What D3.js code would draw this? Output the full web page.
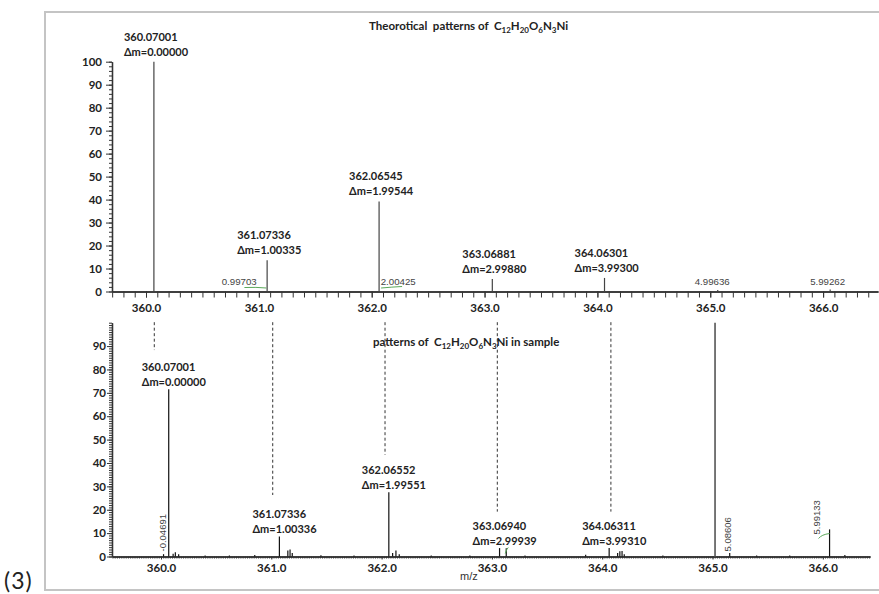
<!DOCTYPE html>
<html><head><meta charset="utf-8">
<script src="https://cdn.jsdelivr.net/npm/d3@7"></script>
<style>
html,body{margin:0;padding:0;background:#fff;}
svg{display:block;}
</style></head><body>
<svg id="chart" width="879" height="594"></svg>
<script>
// ---------------- data ----------------
const xTickValues = [360, 361, 362, 363, 364, 365, 366];
const xTickLabels = ["360.0", "361.0", "362.0", "363.0", "364.0", "365.0", "366.0"];
const topYTicks = [0, 10, 20, 30, 40, 50, 60, 70, 80, 90, 100];
const topYLabels = ["0", "10", "20", "30", "40", "50", "60", "70", "80", "90", "100"];
const bottomYTicks = [0, 10, 20, 30, 40, 50, 60, 70, 80, 90];
const bottomYLabels = ["0", "10", "20", "30", "40", "50", "60", "70", "80", "90"];

// theoretical pattern
const theoMz  = [360.07001, 361.07336, 362.06545, 363.06881, 364.06301, 365.06637, 366.06263];
const theoInt = [100, 13.6, 39.2, 5.4, 5.9, 0.7, 0.9];
const theoLabelMz = [360.07001, 361.07336, 362.06545, 363.06881, 364.06301];
const theoLabelDm = ["0.00000", "1.00335", "1.99544", "2.99880", "3.99300"];
const theoMinorMz = [361.06704, 362.07426, 365.06637, 366.06263];
const theoMinorText = ["0.99703", "2.00425", "4.99636", "5.99262"];

// sample spectrum
const sampleMz = [360.0231, 360.07001, 360.11, 360.13, 360.16, 360.40, 360.62, 360.85,
  361.07336, 361.15, 361.17, 361.19, 361.45, 361.75,
  362.06552, 362.10, 362.13, 362.16, 362.45, 362.80,
  363.06940, 363.13, 363.30, 363.85,
  364.06311, 364.14, 364.16, 364.18, 364.20, 364.55,
  365.023, 365.15607, 365.40, 365.70, 366.06134, 366.20];
const sampleInt = [1.0, 71.5, 1.2, 1.8, 1.0, 0.4, 0.4, 0.6,
  8.6, 2.6, 3.0, 1.5, 0.5, 0.4,
  27.5, 1.5, 2.6, 1.0, 0.4, 0.4,
  3.6, 3.5, 0.4, 0.8,
  3.6, 1.5, 2.2, 2.4, 1.0, 0.4,
  100, 1.5, 0.4, 0.4, 11.6, 0.6];
const sampleLabelMz = [360.07001, 361.07336, 362.06552, 363.06940, 364.06311];
const sampleLabelDm = ["0.00000", "1.00336", "1.99551", "2.99939", "3.99310"];
const sampleRotMz = [360.0231, 365.15607, 366.06134];
const sampleRotText = ["-0.04691", "5.08606", "5.99133"];

// dashed guide lines (m/z on the upper axis, lower end in sample intensity)
const guideMz = [360.0735, 361.123, 362.118, 363.113, 364.1196];
const guideEnd = [88.3, 26.3, 43.5, 19.2, 19.2];

// ---------------- drawing ----------------
const svg = d3.select("#chart");
const boldFont = "Lato, 'Open Sans', sans-serif";
const plainFont = "'Liberation Sans', Arial, sans-serif";

// frame
svg.append("rect").attr("x", 45).attr("y", 12).attr("width", 900).attr("height", 578)
  .attr("fill", "none").attr("stroke", "#c4c4c4").attr("stroke-width", 2);
svg.append("text").attr("x", 4).attr("y", 589).attr("font-family", boldFont)
  .attr("font-size", 23).attr("letter-spacing", 1).attr("fill", "#222").text("(3)");

// scales
const xT = d3.scaleLinear().domain([360 - 34 / 112.85, 360 + 732 / 112.85]).range([112, 878]);
const yT = d3.scaleLinear().domain([0, 100]).range([291.5, 61.7]);
const xB = d3.scaleLinear().domain([360 - 49 / 110.3, 360 + 709 / 110.3]).range([112, 870]);
const yB = d3.scaleLinear().domain([0, 100]).range([556.5, 322.7]);

function styleAxis(g, size) {
  g.selectAll("path.domain").attr("stroke", "#333").attr("stroke-width", 1.3);
  g.selectAll(".tick line").attr("stroke", "#333").attr("stroke-width", 1);
  g.selectAll(".tick text").attr("font-family", boldFont).attr("font-weight", "bold")
    .attr("font-size", size).attr("fill", "#222");
}

// ---- top axes ----
const topMinorX = d3.range(3597, 3665).map(d => d / 10).filter(d => d >= xT.domain()[0] && d <= xT.domain()[1]);
svg.append("g").attr("transform", `translate(0,${yT(0)})`)
  .call(d3.axisBottom(xT).tickValues(topMinorX).tickSize(6).tickSizeOuter(0).tickFormat(""))
  .call(g => styleAxis(g, 11.5));
svg.append("g").attr("transform", `translate(0,${yT(0)})`)
  .call(d3.axisBottom(xT).tickValues(xTickValues).tickSize(6).tickPadding(6.5).tickSizeOuter(0)
    .tickFormat((d, i) => xTickLabels[i]))
  .call(g => styleAxis(g, 11.5));

svg.append("g").attr("transform", `translate(112,0)`)
  .call(d3.axisLeft(yT).tickValues(d3.range(0, 101, 2)).tickSize(3).tickSizeOuter(0).tickFormat(""))
  .call(g => styleAxis(g, 11.5));
svg.append("g").attr("transform", `translate(112,0)`)
  .call(d3.axisLeft(yT).tickValues(topYTicks).tickSize(6).tickPadding(4).tickSizeOuter(0)
    .tickFormat((d, i) => topYLabels[i]))
  .call(g => styleAxis(g, 11.5));

// ---- bottom axes ----
const botMinorX = d3.range(179780, 183215, 10).map(d => d / 500).filter(d => d >= xB.domain()[0] && d <= xB.domain()[1]);
svg.append("g").attr("transform", `translate(0,${yB(0)})`)
  .call(d3.axisBottom(xB).tickValues(botMinorX).tickSize(2).tickSizeOuter(0).tickFormat(""))
  .call(g => styleAxis(g, 11.5));
svg.append("g").attr("transform", `translate(0,${yB(0)})`)
  .call(d3.axisBottom(xB).tickValues(xTickValues).tickSize(3).tickPadding(4).tickSizeOuter(0)
    .tickFormat((d, i) => xTickLabels[i]))
  .call(g => styleAxis(g, 11.5));

svg.append("g").attr("transform", `translate(112,0)`)
  .call(d3.axisLeft(yB).tickValues(d3.range(0, 101, 1)).tickSize(3).tickSizeOuter(0).tickFormat(""))
  .call(g => styleAxis(g, 11.5));
svg.append("g").attr("transform", `translate(112,0)`)
  .call(d3.axisLeft(yB).tickValues(bottomYTicks).tickSize(5).tickPadding(1).tickSizeOuter(0)
    .tickFormat((d, i) => bottomYLabels[i]))
  .call(g => styleAxis(g, 11.5));

// ---- titles ----
function formulaTitle(x, y, prefix, suffix) {
  const t = svg.append("text").attr("x", x).attr("y", y).attr("font-family", boldFont)
    .attr("font-weight", "bold").attr("font-size", 11.5).attr("fill", "#222")
    .attr("xml:space", "preserve");
  t.append("tspan").text(prefix + "C");
  [["12", "H"], ["20", "O"], ["6", "N"], ["3", "Ni" + suffix]].forEach(([s, e]) => {
    t.append("tspan").attr("dy", 3).attr("font-size", 8).text(s);
    t.append("tspan").attr("dy", -3).text(e);
  });
}
formulaTitle(369, 30, "Theorotical  patterns of  ", "");
formulaTitle(373, 346, "patterns of  ", " in sample");

// ---- theoretical peaks ----
const gT = svg.append("g");
gT.selectAll("line.peak").data(theoMz).join("line").attr("class", "peak")
  .attr("x1", d => xT(d)).attr("x2", d => xT(d))
  .attr("y1", yT(0)).attr("y2", (d, i) => yT(theoInt[i]))
  .attr("stroke", "#444").attr("stroke-width", 1.2);

theoLabelMz.forEach((mz, i) => {
  const inten = theoInt[theoMz.indexOf(mz)];
  const t = gT.append("text").attr("x", xT(mz) - 30).attr("y", yT(inten) - 21)
    .attr("font-family", boldFont).attr("font-weight", "bold").attr("font-size", 11).attr("fill", "#222");
  t.append("tspan").attr("x", xT(mz) - 30).text(mz.toFixed(5));
  t.append("tspan").attr("x", xT(mz) - 30).attr("dy", 15).text("Δm=" + theoLabelDm[i]);
});

const minorDx = [-9.7, 0.6, 12, 15];
const minorAnchor = ["end", "start", "end", "end"];
theoMinorMz.forEach((mz, i) => {
  gT.append("text").attr("x", xT(mz) + minorDx[i]).attr("y", yT(0) - 6.5)
    .attr("text-anchor", minorAnchor[i]).attr("font-family", plainFont)
    .attr("font-size", 9.7).attr("fill", "#444").text(theoMinorText[i]);
});
// green leaders
gT.append("path").attr("d", `M${xT(theoMinorMz[0]) - 22},${yT(0) - 4} Q${xT(theoMinorMz[0]) - 10},${yT(0) - 4.5} ${xT(theoMinorMz[0])},${yT(0) - 3.5}`)
  .attr("fill", "none").attr("stroke", "#5aa85a").attr("stroke-width", 1);
gT.append("path").attr("d", `M${xT(theoMinorMz[1]) + 1},${yT(0) - 3.5} Q${xT(theoMinorMz[1]) + 12},${yT(0) - 4.5} ${xT(theoMinorMz[1]) + 22},${yT(0) - 5}`)
  .attr("fill", "none").attr("stroke", "#5aa85a").attr("stroke-width", 1);

// ---- sample peaks ----
const gB = svg.append("g");
gB.selectAll("line.peak").data(sampleMz).join("line").attr("class", "peak")
  .attr("x1", d => xB(d)).attr("x2", d => xB(d))
  .attr("y1", yB(0)).attr("y2", (d, i) => yB(sampleInt[i]))
  .attr("stroke", (d, i) => sampleInt[i] > 90 ? "#555" : "#111")
  .attr("stroke-width", (d, i) => sampleInt[i] > 90 ? 1.6 : 1.2);

sampleLabelMz.forEach((mz, i) => {
  const inten = sampleInt[sampleMz.indexOf(mz)];
  const x0 = xB(mz) - 27;
  const t = gB.append("text").attr("x", x0).attr("y", yB(inten) - 18)
    .attr("font-family", boldFont).attr("font-weight", "bold").attr("font-size", 11).attr("fill", "#222");
  t.append("tspan").attr("x", x0).text(mz.toFixed(5));
  t.append("tspan").attr("x", x0).attr("dy", 14.5).text("Δm=" + sampleLabelDm[i]);
});

const rotDx = [2.5, 1, -10];
const rotBottom = [5, 5, 22];
sampleRotMz.forEach((mz, i) => {
  const x = xB(mz) + rotDx[i], y = yB(0) - rotBottom[i];
  gB.append("text").attr("transform", `translate(${x},${y}) rotate(-90)`)
    .attr("font-family", plainFont).attr("font-size", 9.5).attr("fill", "#444")
    .text(sampleRotText[i]);
});
// green leader for 5.99133 and 363.13
gB.append("path").attr("d", `M${xB(sampleRotMz[2]) - 11},${yB(0) - 18} Q${xB(sampleRotMz[2]) - 8},${yB(0) - 22} ${xB(sampleRotMz[2])},${yB(0) - 23}`)
  .attr("fill", "none").attr("stroke", "#5aa85a").attr("stroke-width", 1);
gB.append("path").attr("d", `M${xB(363.13) - 1},${yB(0) - 3} Q${xB(363.13)},${yB(0) - 7} ${xB(363.13) + 2},${yB(0) - 9}`)
  .attr("fill", "none").attr("stroke", "#5aa85a").attr("stroke-width", 1);

// dashed guides
svg.append("g").selectAll("line").data(guideMz).join("line")
  .attr("x1", d => xT(d)).attr("x2", d => xT(d))
  .attr("y1", yB(100) - 0.5).attr("y2", (d, i) => yB(guideEnd[i]))
  .attr("stroke", "#333").attr("stroke-width", 1).attr("stroke-dasharray", "3,2.5");

// m/z label
svg.append("text").attr("x", 460).attr("y", 580).attr("font-family", plainFont)
  .attr("font-size", 11).attr("fill", "#333").text("m/z");
</script>
</body></html>
